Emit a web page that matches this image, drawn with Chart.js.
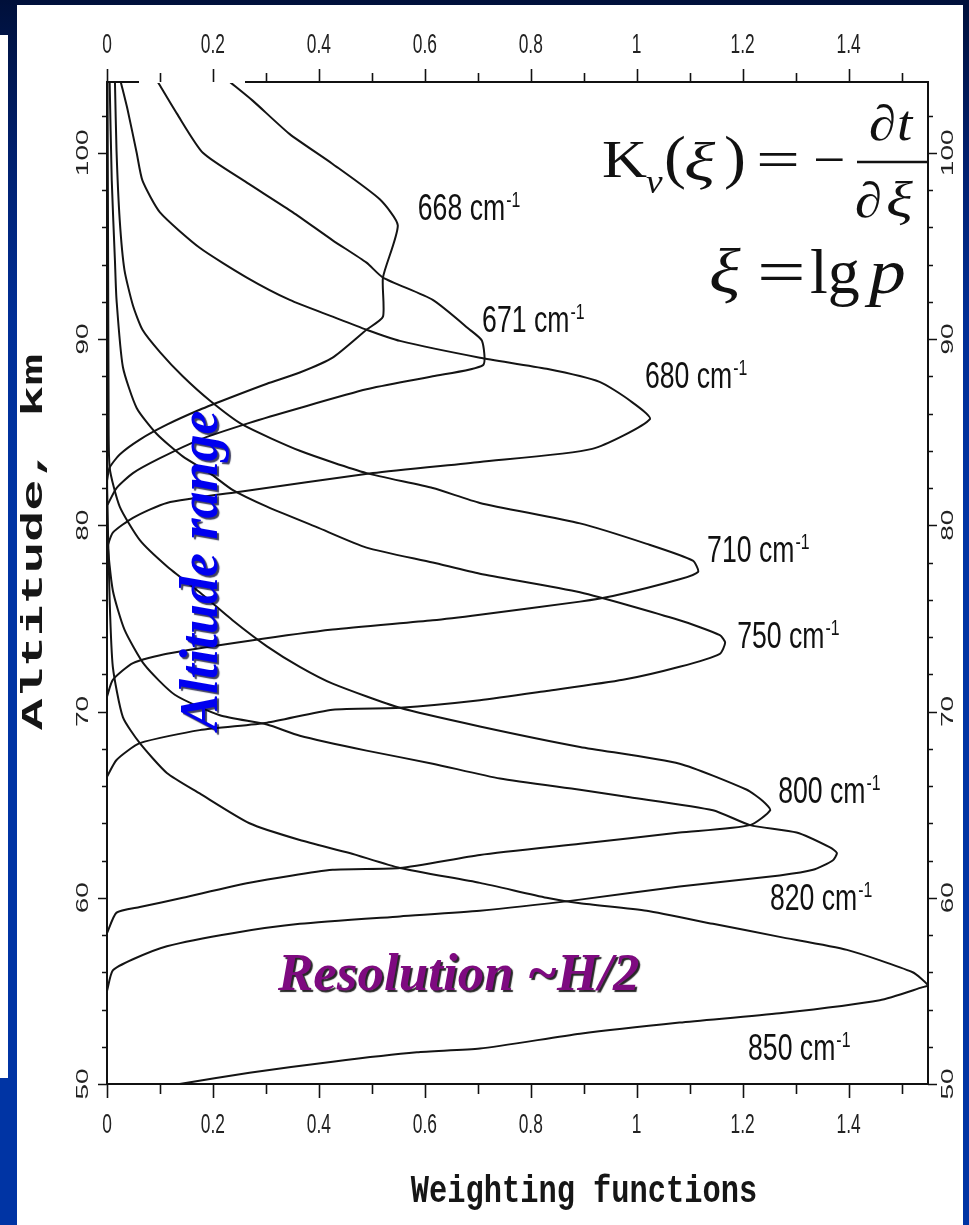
<!DOCTYPE html>
<html>
<head>
<meta charset="utf-8">
<title>Weighting functions</title>
<script src="https://cdn.jsdelivr.net/npm/chart.js@4.4.1/dist/chart.umd.min.js"></script>
<style>
  html, body {
    margin: 0; padding: 0; width: 969px; height: 1225px; overflow: hidden;
    background: linear-gradient(to bottom, #00103a 0px, #001f6c 150px, #002e96 320px, #0034a4 520px, #0034a4 100%);
  }
  #strip { position: absolute; left: 0; top: 35px; width: 8px; height: 1043px; background: #fff; }
  #panel { position: absolute; left: 17px; top: 5px; width: 946px; height: 1220px; background: #fff; }
  #wrap  { position: absolute; left: 0; top: 0; width: 969px; height: 1225px; }
</style>
</head>
<body>
<div id="strip"></div>
<div id="panel"></div>
<div id="wrap"><canvas id="c" width="969" height="1225"></canvas></div>
<script>
// Weighting functions K(v) of the CO2 15 um channels: [value, altitude km]
const k668 = [[0.232,103.8],[0.275,102.8],[0.345,101.0],[0.426,99.4],[0.515,97.5],[0.549,96.1],[0.521,93.3],[0.521,91.2],[0.490,90.5],[0.426,89.0],[0.364,88.2],[0.302,87.6],[0.237,86.9],[0.175,86.2],[0.113,85.4],[0.062,84.6],[0.024,83.8],[0.005,83.1],[0.000,82.4]];
const k671 = [[0.096,103.8],[0.132,102.1],[0.181,100.0],[0.264,98.4],[0.351,96.8],[0.426,95.3],[0.490,94.1],[0.521,93.3],[0.615,92.1],[0.685,90.5],[0.708,89.9],[0.710,88.6],[0.615,88.0],[0.490,87.3],[0.364,86.3],[0.269,85.5],[0.175,84.6],[0.100,83.6],[0.049,82.8],[0.018,82.0],[0.001,81.1]];
const k680 = [[0.026,103.8],[0.039,102.3],[0.056,100.0],[0.067,98.5],[0.100,96.8],[0.175,94.9],[0.264,93.3],[0.345,92.1],[0.426,91.2],[0.490,90.5],[0.553,89.9],[0.704,89.0],[0.830,88.4],[0.930,87.7],[0.987,86.7],[1.025,85.7],[0.916,84.1],[0.704,83.4],[0.502,82.8],[0.251,81.8],[0.113,81.2],[0.049,80.4],[0.011,79.6],[0.000,78.8]];
const k710 = [[0.015,103.8],[0.018,100.1],[0.024,96.4],[0.033,93.7],[0.049,91.8],[0.067,90.5],[0.100,89.3],[0.143,88.0],[0.194,86.7],[0.256,85.4],[0.364,84.0],[0.490,82.8],[0.615,82.0],[0.704,81.2],[0.893,80.1],[1.019,79.0],[1.106,78.1],[1.116,77.5],[1.081,77.1],[0.955,76.2],[0.893,75.9],[0.704,75.2],[0.615,74.9],[0.426,74.4],[0.269,73.8],[0.113,73.1],[0.049,72.6],[0.011,71.7],[0.000,70.8]];
const k750 = [[0.005,103.8],[0.009,98.5],[0.015,94.2],[0.018,92.1],[0.030,88.5],[0.056,86.3],[0.094,84.9],[0.143,83.7],[0.194,82.8],[0.237,81.9],[0.302,81.0],[0.396,79.9],[0.490,78.8],[0.615,78.0],[0.704,77.4],[0.893,76.4],[1.081,74.9],[1.157,74.1],[1.167,73.7],[1.157,73.1],[1.081,72.4],[0.974,71.7],[0.830,71.1],[0.704,70.6],[0.553,70.2],[0.426,70.1],[0.302,69.4],[0.175,69.0],[0.062,68.3],[0.018,67.4],[0.000,66.5]];
const k800 = [[0.001,103.8],[0.002,95.0],[0.003,86.7],[0.005,83.1],[0.024,81.0],[0.062,79.2],[0.113,77.8],[0.175,76.4],[0.237,74.9],[0.302,73.5],[0.364,72.4],[0.426,71.5],[0.553,70.2],[0.704,69.2],[0.893,68.1],[1.081,67.2],[1.208,65.8],[1.238,65.2],[1.252,64.7],[1.214,63.9],[1.081,63.5],[0.893,62.9],[0.704,62.3],[0.553,61.6],[0.426,61.5],[0.269,60.8],[0.143,60.0],[0.062,59.5],[0.018,59.2],[0.000,58.1]];
const k820 = [[0.000,86.0],[0.001,79.2],[0.011,76.5],[0.033,74.4],[0.071,72.5],[0.128,70.9],[0.213,69.8],[0.302,69.3],[0.364,68.7],[0.490,67.9],[0.615,67.2],[0.742,66.4],[0.893,65.8],[0.987,65.4],[1.144,64.7],[1.214,63.9],[1.302,63.5],[1.365,62.7],[1.378,62.4],[1.370,62.0],[1.333,61.5],[1.270,61.2],[1.081,60.6],[0.893,59.9],[0.704,59.3],[0.553,59.0],[0.364,58.6],[0.237,58.1],[0.113,57.4],[0.049,56.7],[0.011,56.1],[0.000,55.0]];
const k850 = [[0.000,82.0],[0.005,76.0],[0.011,72.4],[0.030,69.7],[0.062,68.3],[0.113,66.7],[0.175,65.6],[0.269,64.0],[0.364,63.1],[0.458,62.4],[0.553,61.6],[0.704,60.8],[0.830,60.0],[0.893,59.7],[1.019,59.3],[1.144,58.6],[1.270,57.9],[1.397,57.2],[1.521,56.0],[1.550,55.3],[1.540,55.2],[1.459,54.5],[1.270,53.8],[1.081,53.3],[0.893,52.7],[0.704,51.9],[0.585,51.7],[0.426,51.2],[0.269,50.6],[0.137,50.0]];

const channels = ['668', '671', '680', '710', '750', '800', '820', '850'];
const series = [k668, k671, k680, k710, k750, k800, k820, k850];

// Axis ranges and ticks
const xRange = [0, 1.55];
const yRange = [50, 103.8];
const xTickValues = [0, 0.2, 0.4, 0.6, 0.8, 1.0, 1.2, 1.4];
const xTickLabels = ['0', '0.2', '0.4', '0.6', '0.8', '1', '1.2', '1.4'];
const xMinorValues = [0.1, 0.3, 0.5, 0.7, 0.9, 1.1, 1.3, 1.5];
const yTickValues = [50, 60, 70, 80, 90, 100];
const yTickLabels = ['50', '60', '70', '80', '90', '100'];
const yMinorValues = [52, 54, 56, 58, 62, 64, 66, 68, 72, 74, 76, 78, 82, 84, 86, 88, 92, 94, 96, 98, 102];

// Channel label placement, relative to each curve's peak (pixels)
const labelOffsets = [[20, -5], [-1, -33], [-5, -31], [9, -10], [12, 5], [8, -7], [-67, 57], [-180, 75]];

const SANS = '"Liberation Sans", Arial, sans-serif';
const SERIF = '"Liberation Serif", "Times New Roman", serif';
const MONO = '"Liberation Mono", "Courier New", monospace';

function txt(ctx, s, x, y, font, opt) {
  opt = opt || {};
  ctx.save();
  ctx.translate(x, y);
  if (opt.rot) ctx.rotate(opt.rot);
  ctx.scale(opt.sx || 1, 1);
  ctx.font = font;
  ctx.fillStyle = opt.color || '#111';
  ctx.textAlign = opt.align || 'left';
  ctx.textBaseline = opt.baseline || 'alphabetic';
  if (opt.shadow) {
    ctx.shadowColor = opt.shadow;
    ctx.shadowOffsetX = 2;
    ctx.shadowOffsetY = 2;
    ctx.shadowBlur = 1;
  }
  ctx.fillText(s, 0, 0);
  ctx.restore();
}

const framePlugin = {
  id: 'frame',
  afterDatasetsDraw(chart) {
    const ctx = chart.ctx;
    const a = chart.chartArea;
    const xs = chart.scales.x, ys = chart.scales.y;
    ctx.save();

    // plot frame
    ctx.strokeStyle = '#111';
    ctx.lineWidth = 2;
    ctx.strokeRect(a.left, a.top, a.right - a.left, a.bottom - a.top);
    // faint break in the top axis line
    ctx.strokeStyle = '#fff';
    ctx.beginPath();
    ctx.moveTo(139, a.top); ctx.lineTo(245, a.top);
    ctx.stroke();

    // ticks, pointing outwards
    ctx.strokeStyle = '#111';
    ctx.lineWidth = 1.6;
    ctx.beginPath();
    const xTick = (v, lt, lb) => {
      const p = Math.round(xs.getPixelForValue(v)) + 0.5;
      ctx.moveTo(p, a.top); ctx.lineTo(p, a.top - lt);
      ctx.moveTo(p, a.bottom); ctx.lineTo(p, a.bottom + lb);
    };
    const yTick = (v, l) => {
      const p = Math.round(ys.getPixelForValue(v)) + 0.5;
      ctx.moveTo(a.left, p); ctx.lineTo(a.left - l, p);
      ctx.moveTo(a.right, p); ctx.lineTo(a.right + l, p);
    };
    xTickValues.forEach(v => xTick(v, 13, 14));
    xMinorValues.forEach(v => xTick(v, 9, 10));
    yTickValues.forEach(v => yTick(v, 9));
    yMinorValues.forEach(v => yTick(v, 5));
    ctx.stroke();

    // tick labels
    xTickValues.forEach((v, i) => {
      const p = xs.getPixelForValue(v);
      txt(ctx, xTickLabels[i], p, 53, `28px ${SANS}`, { sx: 0.62, align: 'center', color: '#222' });
      txt(ctx, xTickLabels[i], p, 1133, `28px ${SANS}`, { sx: 0.62, align: 'center', color: '#222' });
    });
    yTickValues.forEach((v, i) => {
      const p = ys.getPixelForValue(v);
      txt(ctx, yTickLabels[i], 88, p, `16px ${SANS}`, { rot: -Math.PI / 2, sx: 1.75, align: 'center', color: '#222' });
      txt(ctx, yTickLabels[i], 953, p, `16px ${SANS}`, { rot: -Math.PI / 2, sx: 1.75, align: 'center', color: '#222' });
    });

    // axis titles
    txt(ctx, 'Altitude, km', 42, 542, `bold 29px ${MONO}`, { rot: -Math.PI / 2, sx: 1.8, align: 'center', color: '#161616' });
    txt(ctx, 'Weighting functions', 584, 1202, `bold 38px ${MONO}`, { sx: 0.8, align: 'center', color: '#161616' });

    // channel labels next to each peak
    series.forEach((s, i) => {
      let peak = s[0];
      s.forEach(p => { if (p[0] > peak[0]) peak = p; });
      const px = xs.getPixelForValue(peak[0]) + labelOffsets[i][0];
      const py = ys.getPixelForValue(peak[1]) + labelOffsets[i][1];
      const main = channels[i] + ' cm';
      ctx.save();
      ctx.font = `37px ${SANS}`;
      const w = ctx.measureText(main).width * 0.72;
      ctx.restore();
      txt(ctx, main, px, py, `37px ${SANS}`, { sx: 0.72, color: '#111' });
      txt(ctx, '-1', px + w + 1, py - 13, `22px ${SANS}`, { sx: 0.72, color: '#111' });
    });

    // formula
    const f1 = 177;
    txt(ctx, 'K', 602, f1, `52px ${SERIF}`, { sx: 1.2 });
    txt(ctx, 'ν', 646, 193, `italic 34px ${SERIF}`, { sx: 1.1 });
    txt(ctx, '(', 664, f1, `60px ${SERIF}`, { sx: 1.1 });
    txt(ctx, 'ξ', 684, 181, `italic 54px ${SERIF}`, { sx: 1.35 });
    txt(ctx, ')', 724, f1, `60px ${SERIF}`, { sx: 1.1 });
    txt(ctx, '=', 756, f1, `52px ${SERIF}`, { sx: 1.5 });
    txt(ctx, '\u2212', 813, f1, `52px ${SERIF}`, { sx: 1.1 });
    ctx.strokeStyle = '#111';
    ctx.lineWidth = 2.5;
    ctx.beginPath();
    ctx.moveTo(857, 162); ctx.lineTo(929, 162);
    ctx.stroke();
    txt(ctx, '\u2202', 869, 140, `italic 50px ${SERIF}`, { sx: 1.1 });
    txt(ctx, 't', 897, 140, `italic 50px ${SERIF}`, { sx: 1.1 });
    txt(ctx, '\u2202', 855, 217, `italic 50px ${SERIF}`, { sx: 1.1 });
    txt(ctx, 'ξ', 886, 217, `italic 50px ${SERIF}`, { sx: 1.25 });
    txt(ctx, 'ξ', 709, 293, `italic 64px ${SERIF}`, { sx: 1.15 });
    txt(ctx, '=', 757, 293, `64px ${SERIF}`, { sx: 1.35 });
    txt(ctx, 'lg', 810, 293, `64px ${SERIF}`);
    txt(ctx, 'p', 869, 293, `italic 64px ${SERIF}`, { sx: 1.15 });

    // annotations
    txt(ctx, 'Altitude range', 217, 730, `bold italic 54px ${SERIF}`, { rot: -Math.PI / 2, color: '#0000f0', shadow: 'rgba(0,0,40,0.75)' });
    txt(ctx, 'Resolution ~H/2', 278, 990, `bold italic 53px ${SERIF}`, { color: '#7e0a80', shadow: 'rgba(0,0,0,0.85)' });

    ctx.restore();
  }
};

new Chart(document.getElementById('c'), {
  type: 'scatter',
  data: {
    datasets: series.map((s, i) => ({
      label: channels[i] + ' cm-1',
      data: s.map(p => ({ x: p[0], y: p[1] })),
      showLine: true,
      borderColor: '#141414',
      borderWidth: 2,
      pointRadius: 0,
      tension: 0.2,
      fill: false
    }))
  },
  options: {
    responsive: false,
    animation: false,
    devicePixelRatio: 1,
    events: [],
    layout: { padding: { left: 107, right: 41, top: 82, bottom: 141 } },
    plugins: { legend: { display: false }, tooltip: { enabled: false } },
    scales: {
      x: { type: 'linear', min: xRange[0], max: xRange[1], display: false },
      y: { type: 'linear', min: yRange[0], max: yRange[1], display: false }
    }
  },
  plugins: [framePlugin]
});
</script>
</body>
</html>
